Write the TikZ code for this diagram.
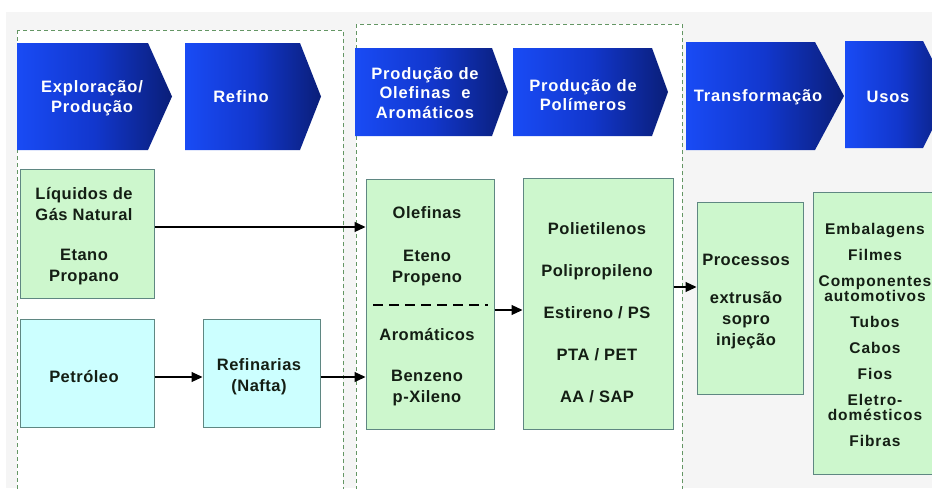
\documentclass[tikz,border=0pt]{standalone}
\usepackage{fontspec}
\setmainfont{Liberation Sans}
\newfontfamily\boxfont{Liberation Sans}[LetterSpace=3]
\newfontfamily\usosfont{Liberation Sans}[LetterSpace=6]
\newfontfamily\chevfont{Liberation Sans}[LetterSpace=5]
\usetikzlibrary{arrows.meta}
\definecolor{chevL}{RGB}{25,75,245}
\definecolor{chevM}{RGB}{18,55,205}
\definecolor{chevR}{RGB}{10,30,120}
\definecolor{grn}{RGB}{205,247,205}
\definecolor{cyn}{RGB}{204,255,255}
\definecolor{bord}{RGB}{95,135,130}
\definecolor{grpc}{RGB}{100,150,100}
\definecolor{txtc}{RGB}{20,30,20}
\definecolor{bgc}{RGB}{245,245,245}
\begin{document}
\begin{tikzpicture}[x=1pt,y=-1pt,
  chev/.style={left color=chevL, right color=chevR, middle color=chevM},
  chevtxt/.style={text=white, font=\chevfont\bfseries\fontsize{16.5}{19.5}\selectfont, align=center, inner sep=0pt},
  grpbox/.style={draw=grpc, fill=white, line width=1pt, dash pattern=on 4pt off 3pt},
  gbox/.style={draw=bord, fill=grn, line width=1pt, inner sep=0pt},
  cbox/.style={draw=bord, fill=cyn, line width=1pt, inner sep=0pt},
  txt/.style={text=txtc, font=\boxfont\bfseries\fontsize{16.5}{21}\selectfont, align=center, inner sep=0pt},
  usostxt/.style={text=txtc, font=\usosfont\bfseries\fontsize{15.5}{26}\selectfont, align=center, inner sep=0pt},
  arr/.style={-{Triangle[length=11pt,width=10pt]}, line width=1.1pt, black}
]
\useasboundingbox (0,0) rectangle (932,488);
\clip (0,0) rectangle (932,488);
\fill[white] (0,0) rectangle (932,488);
\fill[bgc] (6,12) rectangle (932,488);

% group frames
\draw[grpbox] (17,30) rectangle (343,500);
\draw[grpbox] (356,24) rectangle (682,500);

% chevrons
\shade[chev] (17,43) -- (148,43) -- (172,96.5) -- (148,150) -- (17,150) -- cycle;
\node[chevtxt] (c1) at (92,98) {Exploração/\\Produção};
\shade[chev] (185,43) -- (300,43) -- (321,96.5) -- (300,150) -- (185,150) -- cycle;
\node[chevtxt] (c2) at (241,97) {Refino};
\shade[chev] (355,48) -- (492,48) -- (508,92) -- (492,136) -- (355,136) -- cycle;
\node[chevtxt] (c3) at (425,93) {Produção de\\Olefinas\ \ e\\Aromáticos};
\shade[chev] (513,48) -- (652,48) -- (668,92) -- (652,136) -- (513,136) -- cycle;
\node[chevtxt] (c4) at (583,95) {Produção de\\Polímeros};
\shade[chev] (686,42) -- (815,42) -- (844,96) -- (815,150) -- (686,150) -- cycle;
\node[chevtxt] (c5) at (758,97) {Transformação};
\shade[chev] (845,41) -- (923,41) -- (950,94.5) -- (923,148) -- (845,148) -- cycle;
\node[chevtxt] (c6) at (888,97) {Usos};

% boxes
\node[gbox, minimum width=134pt, minimum height=129pt] (liq) at (87,233.5) {};
\node[txt] (liqt) at (84,236) {Líquidos de\\Gás Natural\\[19pt]Etano\\Propano};

\node[cbox, minimum width=134pt, minimum height=108pt] (pet) at (87,373) {};
\node[txt] (pett) at (84,377) {Petróleo};

\node[cbox, minimum width=117pt, minimum height=108pt] (ref) at (261.5,373) {};
\node[txt] (reft) at (259,377) {Refinarias\\(Nafta)};

\node[gbox, minimum width=128pt, minimum height=250pt] (olef) at (430,304) {};
\node[txt] (oleft) at (427,306) {Olefinas\\[22pt]Eteno\\Propeno\\[37pt]Aromáticos\\[20pt]Benzeno\\p-Xileno};
\draw[line width=2.5pt, dash pattern=on 10pt off 6pt] (373,305) -- (488,305);

\node[gbox, minimum width=150pt, minimum height=251pt] (pol) at (598,303.5) {};
\node[txt] (polt) at (597,313) {Polietilenos\\[21pt]Polipropileno\\[21pt]Estireno / PS\\[21pt]PTA / PET\\[21pt]AA / SAP};

\node[gbox, minimum width=106pt, minimum height=192pt] (proc) at (750,298) {};
\node[txt] (proct) at (746,302) {Processos\\[17pt]extrusão\\sopro\\injeção};

\node[gbox, minimum width=132pt, minimum height=282pt] (usos) at (879,333) {};
\node[usostxt] (usost) at (875,335) {Embalagens\\Filmes\\Componentes\\[-11pt]automotivos\\Tubos\\Cabos\\Fios\\Eletro-\\[-11pt]domésticos\\Fibras};

% connectors
\draw[arr] (liq.east |- 0,227) -- (olef.west |- 0,227);
\draw[arr] (pet.east |- 0,377) -- (ref.west |- 0,377);
\draw[arr] (ref.east |- 0,377) -- (olef.west |- 0,377);
\draw[arr] (olef.east |- 0,310) -- (pol.west |- 0,310);
\draw[arr] (pol.east |- 0,287) -- (proc.west |- 0,287);
\end{tikzpicture}
\end{document}
